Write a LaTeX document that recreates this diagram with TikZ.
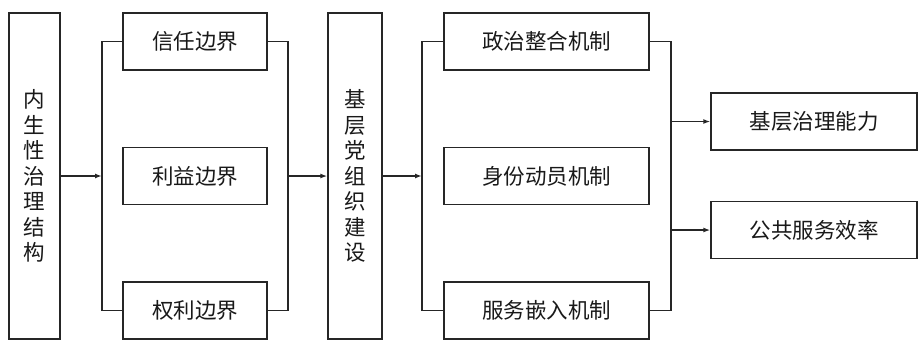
\documentclass[tikz,border=0pt]{standalone}
\usepackage{fontspec}
\setmainfont{Noto Sans CJK SC}
\usetikzlibrary{arrows.meta}
\tikzset{
  box/.style={draw=black!85, line width=1.4pt, fill=white, inner sep=0pt, text=black!90, font=\fontsize{21.5}{25.5}\selectfont},
  conn/.style={draw=black!85, line width=1.4pt},
  arr/.style={conn, -{Latex[length=7pt,width=5pt]}}
}
\begin{document}
\begin{tikzpicture}[x=1pt,y=-1pt]
\useasboundingbox[fill=white] (0,0) rectangle (923,348);
% tall boxes
\node[box, minimum width=51pt, minimum height=326pt, align=center] (L) at (34.5,176) {内\\生\\性\\治\\理\\结\\构};
\node[box, minimum width=54pt, minimum height=326pt, align=center] (P) at (355,176) {基\\层\\党\\组\\织\\建\\设};
% boundary boxes
\node[box, minimum width=144pt, minimum height=57pt] (a) at (195,41.5) {信任边界};
\node[box, minimum width=144pt, minimum height=57pt] (b) at (195,176) {利益边界};
\node[box, minimum width=144pt, minimum height=57pt] (c) at (195,310.5) {权利边界};
% mechanism boxes
\node[box, minimum width=205pt, minimum height=57pt] (d) at (546.5,41.5) {政治整合机制};
\node[box, minimum width=205pt, minimum height=57pt] (e) at (546.5,176) {身份动员机制};
\node[box, minimum width=205pt, minimum height=57pt] (f) at (546.5,310.5) {服务嵌入机制};
% outcome boxes
\node[box, minimum width=206pt, minimum height=57pt] (o1) at (814,121.5) {基层治理能力};
\node[box, minimum width=206pt, minimum height=57pt] (o2) at (814,230) {公共服务效率};
% junctions
\coordinate (j1) at (102,176);
\coordinate (j2) at (288,176);
\coordinate (j3) at (422,176);
\coordinate (k1) at (671,121.5);
\coordinate (k2) at (671,230);
% connectors
\draw[arr] (L.east) -- (j1);
\draw[conn] (a.west) -| (j1) |- (c.west);
\draw[conn] (a.east) -| (j2) |- (c.east);
\draw[arr] (j2) -- (P.west);
\draw[arr] (P.east) -- (j3);
\draw[conn] (d.west) -| (j3) |- (f.west);
\draw[conn] (d.east) -| (k1) -- (k2) |- (f.east);
\draw[arr] (k1) -- (o1.west);
\draw[arr] (k2) -- (o2.west);
\end{tikzpicture}
\end{document}
